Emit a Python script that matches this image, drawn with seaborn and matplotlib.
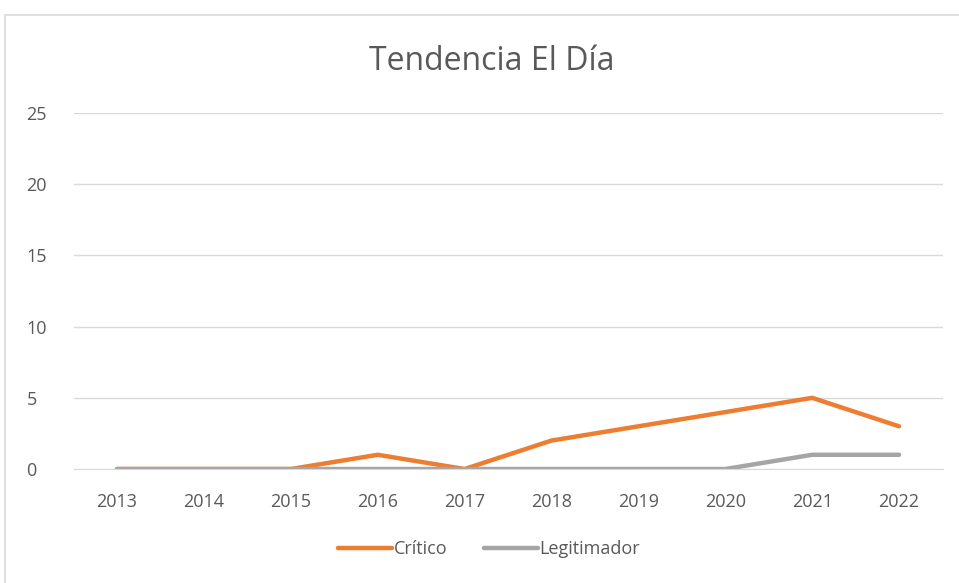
import pandas as pd
import seaborn as sns
import matplotlib.pyplot as plt
from matplotlib.patches import Rectangle

#Data
years = ["2013", "2014", "2015", "2016", "2017", "2018", "2019", "2020", "2021", "2022"]
critico = [0, 0, 0, 1, 0, 2, 3, 4, 5, 3]
legitimador = [0, 0, 0, 0, 0, 0, 0, 0, 1, 1]

df = pd.DataFrame({
    "year": years * 2,
    "value": critico + legitimador,
    "serie": ["Crítico"] * len(years) + ["Legitimador"] * len(years),
})

sns.set_style("white")
plt.rcParams['font.family'] = ['Open Sans', 'DejaVu Sans']
txt = "#595959"

fig = plt.figure(figsize=(9.59, 5.83), dpi=100)
fig.patches.append(Rectangle((5 / 959, -0.1), 1.2, 1 - 15 / 583 + 0.1, transform=fig.transFigure,
                             fill=False, edgecolor="#D9D9D9", linewidth=1.2))
ax = fig.add_axes([0.0768, 0.1955, 0.906, 0.6105])

sns.lineplot(data=df, x="year", y="value", hue="serie", palette=["#ED7D31", "#A5A5A5"],
             linewidth=3.2, sort=False, ax=ax, legend=False)

ax.set_xlim(-0.5, 9.5)
ax.set_ylim(0, 25)
ax.set_yticks(range(0, 26, 5))
ax.yaxis.grid(True, color="#D9D9D9", linewidth=1)
ax.set_axisbelow(True)
for s in ["top", "right", "left"]:
    ax.spines[s].set_visible(False)
ax.spines["bottom"].set_color("#D9D9D9")
ax.tick_params(axis="both", colors=txt, labelsize=13, length=0)
ax.tick_params(axis="x", pad=17)
ax.tick_params(axis="y", pad=34)
for lbl in ax.get_yticklabels():
    lbl.set_horizontalalignment("left")
ax.set_xlabel("")
ax.set_ylabel("")

fig.text(0.513, 0.895, "Tendencia El Día", ha="center", va="center", fontsize=23, color=txt)

h = [plt.Line2D([], [], color="#ED7D31", lw=3.2), plt.Line2D([], [], color="#A5A5A5", lw=3.2)]
fig.legend(h, ["Crítico", "Legitimador"], loc="center", bbox_to_anchor=(0.51, 0.058), ncol=2,
           frameon=False, fontsize=13, labelcolor=txt, handlelength=3.0, handletextpad=0.1,
           columnspacing=2.0)

fig.savefig("out.png", dpi=100)
